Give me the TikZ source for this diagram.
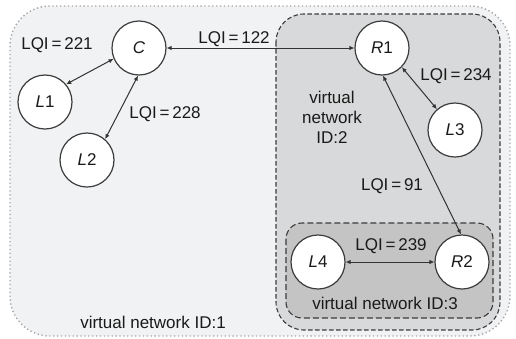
\documentclass[tikz,border=0pt]{standalone}
\usepackage{fontspec}
\setmainfont{Liberation Sans}
\usetikzlibrary{arrows.meta}
\definecolor{sfondoUno}{HTML}{F1F2F3}
\definecolor{sfondoDue}{HTML}{D8D9DA}
\definecolor{sfondoTre}{HTML}{C4C4C5}
\definecolor{bordo}{HTML}{3C3C3C}
\definecolor{linea}{HTML}{333333}
\definecolor{testo}{HTML}{1A1A1A}

\begin{document}
\begin{tikzpicture}[x=1pt, y=-1pt, font=\fontsize{17}{20}\selectfont,
    nodo/.style={circle, draw=bordo, fill=white, line width=1.2pt, minimum size=54pt, inner sep=0pt, text=testo},
    freccia/.style={{Latex[length=5pt,width=4.5pt]}-{Latex[length=5pt,width=4.5pt]}, draw=linea, line width=1pt},
    etichetta/.style={text=testo, inner sep=0pt}]
    \useasboundingbox (0,0) rectangle (516,338);
    
    % Rete virtuale 1
    \draw[draw=gray!70, line width=1.4pt, dash pattern=on 1.3pt off 2.6pt, fill=sfondoUno, rounded corners=40] (10,6) rectangle (510,336);
    \node[etichetta] (id1) at (153,322){virtual network ID:1};
    % Rete virtuale 2
    \draw[draw=bordo, line width=1.1pt, dash pattern=on 4.5pt off 2.5pt, fill=sfondoDue, rounded corners=28] (276,14) rectangle (500,330);
    \node[etichetta, align=center] (id2) at (332,117){virtual\\network\\ID:2};
    % Rete virtuale 3
    \draw[draw=bordo, line width=1.1pt, dash pattern=on 6pt off 3pt, fill=sfondoTre, rounded corners=16] (286,223) rectangle (493,318);
    \node[etichetta] (id3) at (385,303){virtual network ID:3};
    
    % Nodi
    \node[nodo] (C) at (139,48){\textit{C}};
    \node[nodo] (L1) at (45,102){\textit{L}1};
    \node[nodo] (L2) at (87,160){\textit{L}2};
    \node[nodo] (R1) at (382,48){\textit{R}1};
    \node[nodo] (L3) at (455,130){\textit{L}3};
    \node[nodo] (L4) at (318,262){\textit{L}4};
    \node[nodo] (R2) at (462,262){\textit{R}2};
    
    % Collegamenti
    \draw[freccia] (C.-157) -- (L1.40);
    \draw[freccia] (C.-92) -- (L2.49);
    \draw[freccia] (C.east) -- (R1.west);
    \draw[freccia] (R1.-44) -- (L3.131);
    \draw[freccia] (R1.-88) -- (R2.92);
    \draw[freccia] (L4.east) -- (R2.west);
    
    % Valori LQI
    \node[etichetta] (q221) at (57,45){LQI\,=\,221};
    \node[etichetta] (q228) at (165,114){LQI\,=\,228};
    \node[etichetta] (q122) at (234,39){LQI\,=\,122};
    \node[etichetta] (q234) at (456,76){LQI\,=\,234};
    \node[etichetta] (q91) at (392,186){LQI\,=\,91};
    \node[etichetta] (q239) at (391,246){LQI\,=\,239};
\end{tikzpicture}
\end{document}
